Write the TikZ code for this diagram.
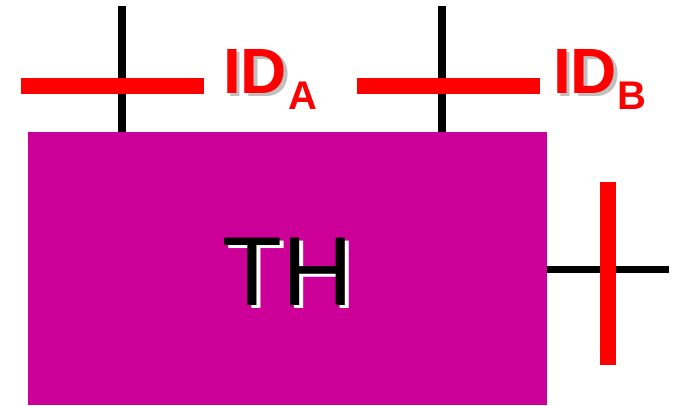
\documentclass[tikz,border=0pt]{standalone}
\usepackage{fontspec}
\setmainfont{Liberation Sans}
\definecolor{mag}{HTML}{CC0099}
\definecolor{shadowgray}{HTML}{C0C0C0}
\tikzset{
  wire/.style={draw=black, line width=8pt},
  redbar/.style={draw=red, line width=15.7pt},
  lbl/.style={anchor=base west, inner sep=0pt, outer sep=0pt},
  idfont/.style={font=\fontsize{64}{64}\selectfont\bfseries},
  subfont/.style={font=\fontsize{40}{40}\selectfont\bfseries},
  thfont/.style={font=\fontsize{98}{98}\selectfont}
}
\begin{document}
\begin{tikzpicture}[x=1pt,y=-1pt]
\useasboundingbox (0,0) rectangle (674,405);
% box
\node[fill=mag, draw=none, minimum width=519pt, minimum height=273pt, inner sep=0pt, outer sep=0pt, anchor=north west] (box) at (28,132) {};
% top wires
\coordinate (wa1) at (121.7,6);
\coordinate (wa2) at (121.7,132);
\coordinate (wb1) at (441.5,6);
\coordinate (wb2) at (441.5,132);
\draw[wire] (wa1) -- (wa2);
\draw[wire] (wb1) -- (wb2);
% top red bars
\coordinate (ra1) at (21,86);
\coordinate (ra2) at (204.3,86);
\coordinate (rb1) at (357,86);
\coordinate (rb2) at (540,86);
\draw[redbar] (ra1) -- (ra2);
\draw[redbar] (rb1) -- (rb2);
% right wire and bar
\coordinate (wc2) at (669,269.5);
\draw[wire, line width=7.6pt] (box.east |- wc2) -- (wc2);
\coordinate (rc1) at (608,182);
\coordinate (rc2) at (608,365);
\draw[redbar, line width=16pt] (rc1) -- (rc2);
% TH label
\node[lbl, thfont, text=white] (thsh) at (226.7,308.5) {TH};
\node[lbl, thfont, text=black] (th) at (222.7,305) {TH};
% ID_A
\node[lbl, idfont, text=shadowgray] (idash) at (226.5,96.5) {ID};
\node[lbl, idfont, text=red] (ida) at (223,93) {ID};
\node[lbl, subfont, text=red] (idasub) at (288.5,109) {A};
% ID_B
\node[lbl, idfont, text=shadowgray] (idbsh) at (556.5,96.5) {ID};
\node[lbl, idfont, text=red] (idb) at (553,93) {ID};
\node[lbl, subfont, text=red] (idbsub) at (617,109) {B};
\end{tikzpicture}
\end{document}
